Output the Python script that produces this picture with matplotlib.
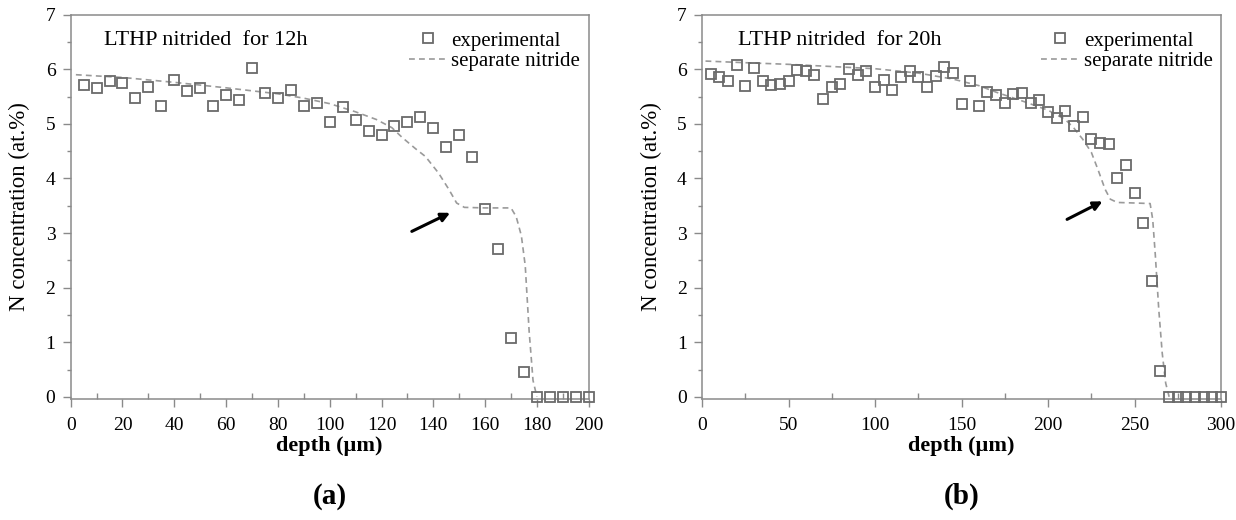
import matplotlib
matplotlib.use("Agg")
from matplotlib import pyplot as plt
from matplotlib.ticker import MultipleLocator
import numpy as np

plt.rcParams['font.family'] = ['Liberation Serif', 'DejaVu Serif']

# panel (a): 12h
depth_a = [5, 10, 15, 20, 25, 30, 35, 40, 45, 50, 55, 60, 65, 70, 75, 80, 85, 90, 95, 100,
           105, 110, 115, 120, 125, 130, 135, 140, 145, 150, 155, 160, 165, 170, 175, 180,
           185, 190, 195, 200]
exp_a = [5.71, 5.65, 5.78, 5.75, 5.47, 5.68, 5.32, 5.81, 5.61, 5.65, 5.32, 5.53, 5.44, 6.03,
         5.56, 5.47, 5.62, 5.32, 5.38, 5.03, 5.31, 5.07, 4.86, 4.80, 4.96, 5.03, 5.12, 4.92,
         4.57, 4.80, 4.40, 3.44, 2.71, 1.07, 0.46, 0.0, 0.0, 0.0, 0.0, 0.0]
model_x_a = [2, 20, 40, 60, 80, 90, 100, 110, 118, 124, 128, 133, 137, 142, 146, 149, 152,
             160, 170, 172, 174, 175.5, 177, 178.5, 180]
model_y_a = [5.90, 5.85, 5.76, 5.66, 5.55, 5.47, 5.37, 5.22, 5.08, 4.93, 4.75, 4.55, 4.40,
             4.10, 3.80, 3.55, 3.47, 3.46, 3.46, 3.30, 2.95, 2.40, 1.20, 0.30, 0.0]

# panel (b): 20h
depth_b = list(range(5, 305, 5))
exp_b = [5.92, 5.85, 5.79, 6.08, 5.70, 6.03, 5.79, 5.71, 5.73, 5.78, 5.98, 5.96, 5.90, 5.46,
         5.67, 5.73, 6.01, 5.90, 5.97, 5.68, 5.81, 5.62, 5.85, 5.96, 5.85, 5.67, 5.87, 6.04,
         5.94, 5.36, 5.78, 5.32, 5.58, 5.52, 5.38, 5.54, 5.56, 5.38, 5.44, 5.21, 5.10, 5.24,
         4.96, 5.13, 4.72, 4.65, 4.63, 4.01, 4.25, 3.73, 3.19, 2.13, 0.48,
         0.0, 0.0, 0.0, 0.0, 0.0, 0.0, 0.0]
model_x_b = [2, 25, 50, 75, 100, 125, 145, 160, 170, 185, 200, 210, 215, 220, 225, 229, 233,
             236, 240, 250, 259, 260.5, 262, 264, 266, 268, 270]
model_y_b = [6.15, 6.12, 6.09, 6.05, 6.01, 5.93, 5.82, 5.70, 5.58, 5.42, 5.25, 5.08, 4.92,
             4.72, 4.48, 4.15, 3.80, 3.62, 3.56, 3.55, 3.54, 3.25, 2.60, 1.60, 0.80, 0.25, 0.0]

panels = [
    dict(x=depth_a, y=exp_a, mx=model_x_a, my=model_y_a, xmax=200, major=20, minor=10,
         title="LTHP nitrided  for 12h", tx=13, arrow=((131.7, 3.03), (146.5, 3.37)), tag="(a)"),
    dict(x=depth_b, y=exp_b, mx=model_x_b, my=model_y_b, xmax=300, major=50, minor=25,
         title="LTHP nitrided  for 20h", tx=21, arrow=((211, 3.25), (231.5, 3.58)), tag="(b)"),
]
positions = [[0.0572, 0.2322, 0.4191, 0.7396], [0.5680, 0.2322, 0.4199, 0.7396]]

fig = plt.figure(figsize=(12.36, 5.2), dpi=100)
grey = "#8a8a8a"
for p, pos in zip(panels, positions):
    ax = fig.add_axes(pos)
    ax.plot(p["mx"], p["my"], linestyle=(0, (3.5, 2.5)), color="#9a9a9a", lw=1.2,
            label="separate nitride", zorder=2)
    ax.plot(p["x"], p["y"], linestyle="none", marker="s", markersize=6.5,
            markerfacecolor="none", markeredgecolor="#6a6a6a", markeredgewidth=1.3,
            label="experimental", zorder=3, clip_on=False)
    ax.set_xlim(0, p["xmax"])
    ax.set_ylim(-0.045, 7)
    ax.xaxis.set_major_locator(MultipleLocator(p["major"]))
    ax.xaxis.set_minor_locator(MultipleLocator(p["minor"]))
    ax.yaxis.set_major_locator(MultipleLocator(1))
    ax.yaxis.set_minor_locator(MultipleLocator(0.5))
    for s in ax.spines.values():
        s.set_color(grey)
        s.set_linewidth(1.1)
    ax.tick_params(which="major", direction="out", length=6, width=1, color=grey,
                   labelsize=14, pad=5)
    ax.tick_params(axis="x", which="minor", direction="in", length=4, width=1, color=grey)
    ax.tick_params(axis="y", which="minor", direction="out", length=3, width=1, color=grey)
    ax.tick_params(axis="x", which="major", pad=7)

    ax.set_ylabel("N concentration (at.%)", fontsize=16.5, va="center")
    ax.yaxis.set_label_coords(-0.098, 0.5)
    ax.set_xlabel("depth (\u00b5m)", fontsize=16, fontweight="bold", va="center")
    ax.xaxis.set_label_coords(0.5, -0.121)

    ax.text(p["tx"], 6.52, p["title"], fontsize=16, va="center", ha="left")
    (x0, y0), (x1, y1) = p["arrow"]
    ax.annotate("", xy=(x1, y1), xytext=(x0, y0),
                arrowprops=dict(arrowstyle="-|>", color="black", lw=2.2, mutation_scale=13,
                                shrinkA=0, shrinkB=0))
    h, l = ax.get_legend_handles_labels()
    ax.legend(h[::-1], l[::-1], loc="upper right", bbox_to_anchor=(1.008, 0.99), frameon=False,
              fontsize=15, handlelength=1.8, handletextpad=0.25, labelspacing=0.05,
              borderaxespad=0.2)

    fig.text(pos[0] + pos[2] / 2, 0.045, p["tag"], fontsize=21, fontweight="bold",
             ha="center", va="center")

fig.savefig("out.png", dpi=100)
